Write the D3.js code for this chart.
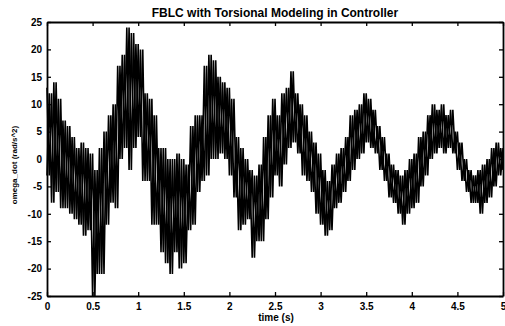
<!DOCTYPE html>
<html>
<head>
<meta charset="utf-8">
<script src="https://cdn.jsdelivr.net/npm/d3@7"></script>
<style>
  body { margin: 0; background: #fff; }
  text { font-family: "Liberation Sans", Arial, sans-serif; font-weight: bold; }
</style>
</head>
<body>
<script>
// envelope of the trace, every 0.05 s
let times = d3.range(0, 101).map(i => i / 20);
let upper = [13, 12, 14, 11, 7, 6, 4, 2, 3, 2,
             1, -2, 2, 5, 8, 10, 17, 19, 24, 23,
             21, 20, 12, 11, 8, 2, 2, 0, 0, 1,
             0, -1, 6, 8, 8, 17, 19, 18, 15, 14,
             13, 11, 4, 2, 0, -2, -3, -1, 4, 8,
             11, 8, 12, 13, 16, 12, 10, 8, 5, 3,
             1, -2, -4, -1, 1, 2, 4, 8, 9, 10,
             12, 11, 9, 6, 4, 1, -1, -2, -3, -2,
             0, 1, 4, 5, 8, 10, 9, 10, 8, 9,
             5, 3, 0, -2, -3, -2, -1, 0, 2, 3, 2];
let lower = [-3, -8, -6, -9, -9, -10, -11, -12, -14, -13,
             -25, -21, -21, -12, -8, -9, 0, 2, -2, 2,
             4, -4, -4, -12, -12, -17, -19, -21, -17, -20,
             -19, -13, -12, -6, -4, -3, 0, 0, 1, 0,
             -3, -7, -13, -12, -11, -18, -15, -15, -11, -7,
             -3, -5, -1, 2, 3, 1, -3, -4, -6, -10,
             -12, -14, -13, -9, -8, -6, -4, -2, 0, 1,
             3, 2, 1, -2, -4, -7, -8, -10, -12, -10,
             -9, -8, -5, -3, 0, 1, 2, 1, 2, 1,
             -2, -4, -6, -8, -8, -10, -8, -7, -5, -3, -2];
let xTicks = [0, 0.5, 1, 1.5, 2, 2.5, 3, 3.5, 4, 4.5, 5];
let yTicks = [25, 20, 15, 10, 5, 0, -5, -10, -15, -20, -25];

// two interleaved zigzags through the peaks and troughs, so the
// trace reads as the dense black band of the scan
let traceA = [], traceB = [];
times.forEach((t, i) => {
  traceA.push([t, upper[i]]);
  traceB.push([t, lower[i]]);
  if (i < times.length - 1) {
    traceA.push([t + 0.025, lower[i]]);
    traceB.push([t + 0.025, upper[i + 1]]);
  }
});

let W = 505, H = 326;
let mLeft = 47, mRight = 503, mTop = 22, mBottom = 296;

let svg = d3.select('body').append('svg').attr('width', W).attr('height', H);

let x = d3.scaleLinear().domain([0, 5]).range([mLeft, mRight]);
let y = d3.scaleLinear().domain([-25, 25]).range([mBottom, mTop]);

let line = d3.line().x(d => x(d[0])).y(d => y(Math.max(-25, d[1])));

svg.selectAll('path.trace')
  .data([traceA, traceB])
  .enter().append('path')
  .attr('class', 'trace')
  .attr('d', line)
  .attr('fill', 'none')
  .attr('stroke', '#000')
  .attr('stroke-width', 1.6)
  .attr('stroke-linejoin', 'miter');

// axes, ticks pointing inward like the MATLAB original
let fmt = d => String(d);
svg.append('g').attr('transform', `translate(0,${mBottom})`)
  .call(d3.axisBottom(x).tickValues(xTicks).tickFormat(fmt).tickSizeInner(-4).tickSizeOuter(0).tickPadding(7));
svg.append('g').attr('transform', `translate(${mLeft},0)`)
  .call(d3.axisLeft(y).tickValues(yTicks).tickFormat(fmt).tickSizeInner(-4).tickSizeOuter(0).tickPadding(5));
svg.append('g').attr('transform', `translate(0,${mTop})`)
  .call(d3.axisTop(x).tickValues(xTicks).tickFormat('').tickSizeInner(-4).tickSizeOuter(0));
svg.append('g').attr('transform', `translate(${mRight},0)`)
  .call(d3.axisRight(y).tickValues(yTicks).tickFormat('').tickSizeInner(-4).tickSizeOuter(0));

svg.selectAll('.domain').attr('stroke', '#000').attr('stroke-width', 1.8);
svg.selectAll('.tick line').attr('stroke', '#000').attr('stroke-width', 1.3);
svg.selectAll('.tick text').attr('font-size', 10).attr('fill', '#000')
  .style('font-family', '"Liberation Sans", Arial, sans-serif').style('font-weight', 'bold');

svg.append('text')
  .attr('x', (mLeft + mRight) / 2).attr('y', 17)
  .attr('text-anchor', 'middle').attr('font-size', 12)
  .text('FBLC with Torsional Modeling in Controller');

svg.append('text')
  .attr('x', 276).attr('y', 321)
  .attr('text-anchor', 'middle').attr('font-size', 10)
  .text('time (s)');

svg.append('text')
  .attr('transform', `translate(17,165) rotate(-90)`)
  .attr('text-anchor', 'middle').attr('font-size', 8)
  .text('omega_dot (rad/s^2)');
</script>
</body>
</html>
